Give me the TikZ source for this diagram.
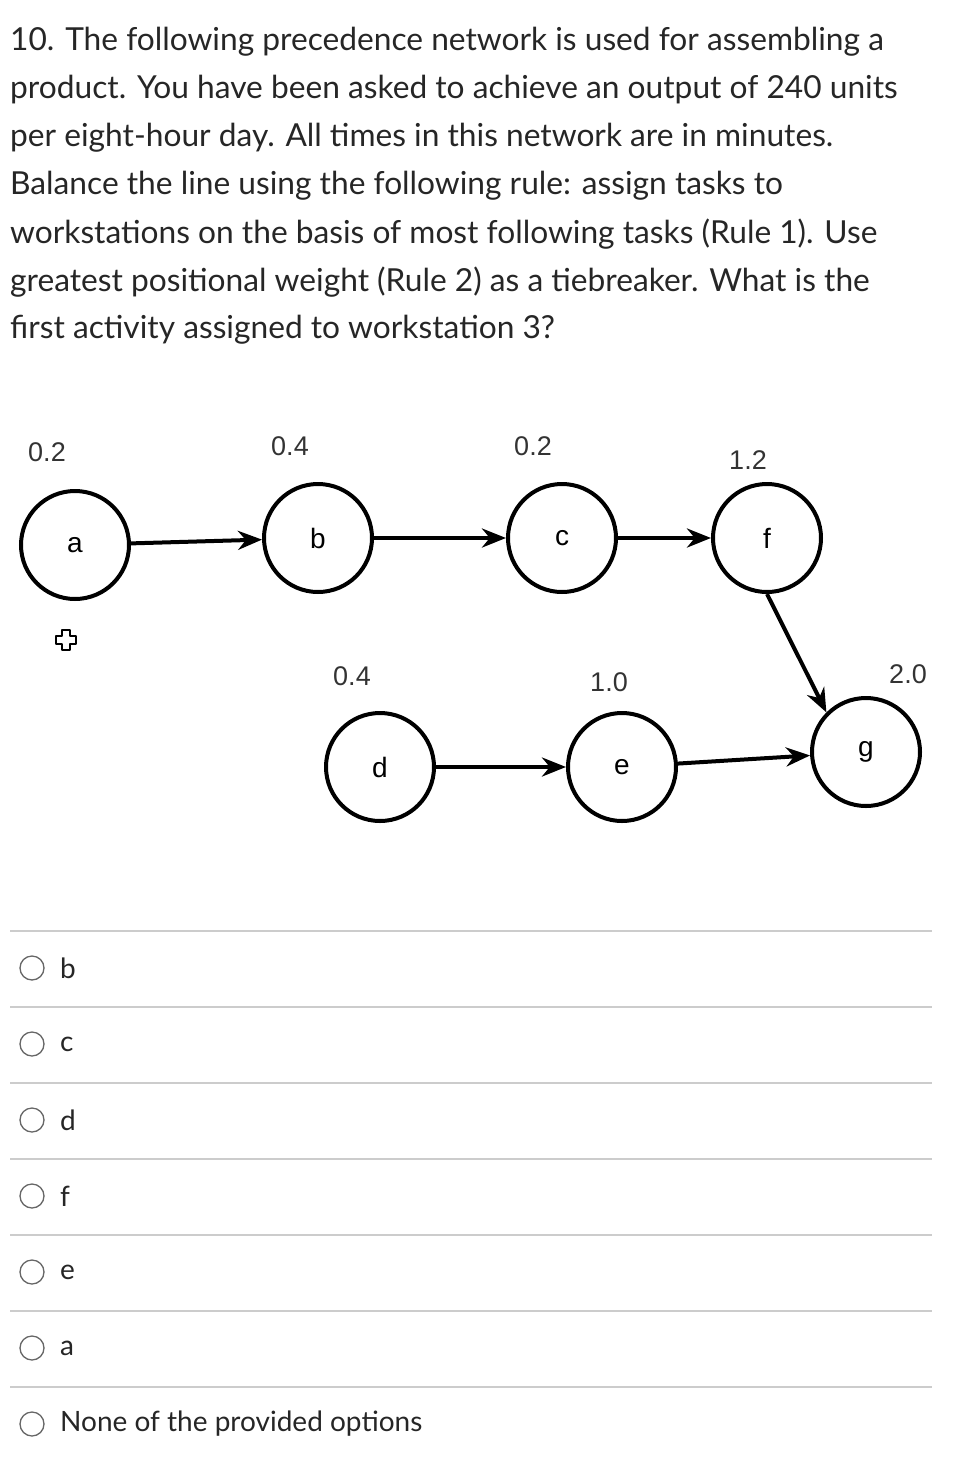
\documentclass[tikz,border=0pt]{standalone}
\usepackage{fontspec}
\setmainfont{Lato}
\newfontfamily\arialf{Liberation Sans}
\usetikzlibrary{arrows.meta}
\begin{document}
\begin{tikzpicture}[x=1pt,y=-1pt,
  task/.style={circle,draw,line width=4pt,minimum size=108pt,inner sep=0pt,font=\arialf\fontsize{28}{28}\selectfont},
  wt/.style={font=\arialf\fontsize{27}{27}\selectfont,text=black!80},
  link/.style={line width=4pt,-{Stealth[length=24pt,width=19pt]}},
  q/.style={anchor=west,font=\fontsize{31.7}{36}\selectfont,inner sep=0pt,text=black!85},
  opt/.style={anchor=west,font=\fontsize{28}{32}\selectfont,inner sep=0pt,text=black!85},
  radio/.style={circle,draw=black!60,line width=1.3pt,minimum size=24pt,inner sep=0pt},
  sep/.style={draw=black!20,line width=1.3pt}]
\useasboundingbox (0,0) rectangle (958,1470);
\foreach \t [count=\i] in {10. The following precedence network is used for assembling a,
 product. You have been asked to achieve an output of 240 units,
 per eight-hour day. All times in this network are in minutes.,
 Balance the line using the following rule: assign tasks to,
 workstations on the basis of most following tasks (Rule 1). Use,
 greatest positional weight (Rule 2) as a tiebreaker. What is the,
 first activity assigned to workstation 3?}
 \node[q] (q\i) at (10,{42+48*(\i-1)}) {\t};
\node[task] (a) at (75,545) {a};
\node[task] (b) at (318,538) {b};
\node[task] (c) at (562,538) {c};
\node[task] (f) at (767,538) {f};
\node[task] (d) at (380,767) {d};
\node[task] (e) at (622,767) {e};
\node[task] (g) at (866,752) {g};
\node[wt] (wa) at (47,452) {0.2};
\node[wt] (wb) at (290,446) {0.4};
\node[wt] (wc) at (533,446) {0.2};
\node[wt] (wf) at (748,460) {1.2};
\node[wt] (wd) at (352,676) {0.4};
\node[wt] (we) at (609,682) {1.0};
\node[wt] (wg) at (908,674) {2.0};
\draw[link] (a) -- (b);
\draw[link] (b) -- (c);
\draw[link] (c) -- (f);
\draw[link] (d) -- (e);
\draw[link] (e) -- (g);
\draw[link] (f.south) -- (g.north west);
\draw[line width=2.5pt,line join=round] (62,630) -- (70,630) -- (70,636) -- (76,636) -- (76,644) -- (70,644) -- (70,650) -- (62,650) -- (62,644) -- (56,644) -- (56,636) -- (62,636) -- cycle;
\foreach \y in {931,1007,1083,1159,1235,1311,1387} \draw[sep] (10,\y) -- (932,\y);
\foreach \t [count=\i] in {b,c,d,f,e,a,None of the provided options}{
  \node[radio] (r\i) at (32,{968+76*(\i-1)}) {};
  \node[opt] (o\i) at (60,{968+76*(\i-1)}) {\t};}
\end{tikzpicture}
\end{document}
